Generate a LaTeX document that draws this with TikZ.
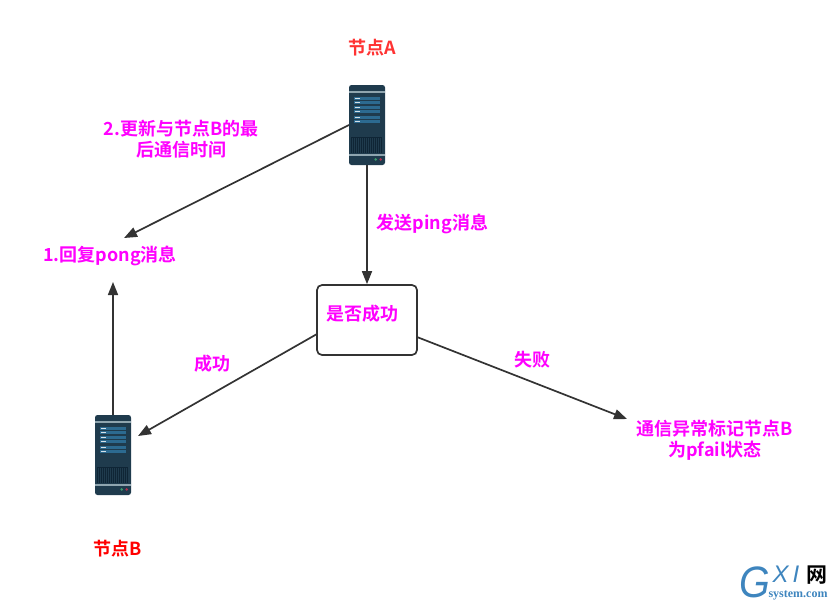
\documentclass[tikz,border=0pt]{standalone}
\usepackage{fontspec}
\setmainfont{Noto Sans CJK SC}[BoldFont={Noto Sans CJK SC Bold}]
\newfontfamily\wmserif{Liberation Serif}
\newfontfamily\wmsans{Liberation Sans}
\usetikzlibrary{arrows.meta}
\definecolor{srvdark}{HTML}{1F3B4D}
\definecolor{srvband}{HTML}{2C6A90}
\definecolor{srvline}{HTML}{8FA5AF}
\definecolor{srvgrill}{HTML}{0F2535}
\definecolor{linegray}{HTML}{333333}
\definecolor{msgpink}{HTML}{FF00FF}
\definecolor{namered}{HTML}{FF3333}
\definecolor{wmblue}{HTML}{3E85BE}
\definecolor{ledgreen}{HTML}{3A9A6A}
\definecolor{ledred}{HTML}{B03050}
\tikzset{
    serverpic/.pic = {
        \node[fill=srvdark, rounded corners=2.5pt, minimum width=36pt, minimum height=80pt, inner sep=0pt] (box) at (18,40) {};
        \fill[srvline] (0,6) rectangle (36,7.7);
        \foreach \yy in {11.7,15.7,21,25,31,35} {
            \fill[srvband] (5,\yy) rectangle (31,\yy+3.4);
            \fill[white!80!srvband] (6,\yy+1) rectangle (11,\yy+2.4);
        }
        \fill[srvgrill] (1.7,51.7) rectangle (33.3,68);
        \foreach \xx in {3.5,5.5,...,33} {
            \draw[srvdark, line width=.5pt] (\xx,52.7) -- (\xx,68);
        }
        \fill[srvline] (0,69.3) rectangle (36,71);
        \fill[ledgreen] (26.7,74.4) circle (1.4);
        \fill[ledred] (31.7,74.4) circle (1.4);
    }
}
\begin{document}
\begin{tikzpicture}[x=1pt, y=-1pt,
    title/.style = {font=\bfseries\fontsize{18}{21}\selectfont, inner sep=0pt, align=center},
    msg/.style = {title, text=msgpink},
    link/.style = {draw=linegray, line width=1.7pt, -{Triangle[length=13pt, width=10pt]}},
    decision/.style = {draw=linegray, line width=1.7pt, rounded corners=5pt, fill=white, minimum width=100pt, minimum height=70pt, inner sep=0pt}]
    \useasboundingbox (0,0) rectangle (835,603);

    \pic (srva) at (349,85) {serverpic};
    \pic (srvb) at (95,415) {serverpic};
    \node[decision] (check) at (367,320) {};

    \node[title, text=namered] (namea) at (372,48) {节点A};
    \node[title, text=red] (nameb) at (118,549) {节点B};
    \node[msg] (update) at (181,139) {2.更新与节点B的最\\后通信时间};
    \node[msg] (pong) at (110,256) {1.回复pong消息};
    \node[msg] (ping) at (432.5,224) {发送ping消息};
    \node[msg] (ask) at (362,314) {是否成功};
    \node[msg] (okay) at (212,364) {成功};
    \node[msg] (fail) at (532,360) {失败};
    \node[msg] (mark) at (715,440) {通信异常标记节点B\\为pfail状态};

    \coordinate (pongin) at (124,238);
    \coordinate (pongup) at (113,282);
    \coordinate (srvbin) at (138,436);
    \coordinate (markin) at (627,419);
    \coordinate (srvaout) at (349,125);
    \coordinate (leftout) at (317,334);
    \coordinate (rightout) at (417,337);

    \draw[link] (srvaout) -- (pongin);
    \draw[link] (srvabox.south) -- (check.north);
    \draw[link] (leftout) -- (srvbin);
    \draw[link] (rightout) -- (markin);
    \draw[link] (srvbbox.north -| pongup) -- (pongup);

    % watermark
    \node[inner sep=0pt, text=wmblue, xscale=.9, font=\wmsans\itshape\fontsize{44}{44}\selectfont] (wmg) at (755,582) {G};
    \node[inner sep=0pt, text=wmblue, font=\wmsans\itshape\fontsize{24}{24}\selectfont] (wmxi) at (786,574) {X\,I};
    \node[inner sep=0pt, font=\bfseries\fontsize{21}{21}\selectfont] (wmnet) at (817,575) {网};
    \node[inner sep=0pt, text=wmblue, font=\wmserif\bfseries\fontsize{12}{12}\selectfont] (wmsite) at (798,595) {system.com};
\end{tikzpicture}
\end{document}
